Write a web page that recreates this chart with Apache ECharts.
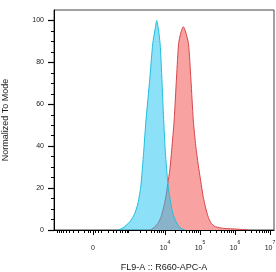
<!DOCTYPE html>
<html>
<head>
<meta charset="utf-8">
<script src="https://cdn.jsdelivr.net/npm/echarts@6/dist/echarts.min.js"></script>
<style>
  html, body { margin: 0; padding: 0; background: #fff; }
  #chart { width: 276px; height: 272px; }
</style>
</head>
<body>
<div id="chart"></div>
<script>
// display scale (logicle-like): position in decades, ~log10 above 10^3, linear around 0
const ZERO_POS = 1.943
const LIN_W = 175.4
function lg(v) { return Math.asinh(v / LIN_W) / Math.LN10 + ZERO_POS }

const X_MIN = 0.829
const X_MAX = 7.114

// histogram outlines, x in display decades, y in % of mode
const cyanX = [2.66, 2.80, 3.00, 3.14, 3.23, 3.31, 3.39, 3.45, 3.57, 3.65, 3.72, 3.763, 3.81, 3.86, 3.89, 3.95, 4.01, 4.09, 4.20, 4.29, 4.43, 4.57]
const cyanY = [0, 1, 4, 8, 13, 21, 37, 51, 73, 89, 96, 100, 96, 89, 80, 57, 37, 21, 9.6, 4.8, 1, 0]

const redX = [3.58, 3.69, 3.79, 3.88, 3.95, 4.02, 4.08, 4.14, 4.19, 4.26, 4.33, 4.39, 4.45, 4.523, 4.59, 4.67, 4.74, 4.81, 4.88, 4.95, 5.02, 5.09, 5.17, 5.24, 5.32, 5.44, 5.67, 6.09, 6.38]
const redY = [0, 1.2, 3, 6, 10, 15.5, 22, 29, 38, 52, 73, 89, 94, 97, 94.5, 89, 72, 52, 40, 31, 23.5, 16, 10, 6, 3.2, 1.6, 0.8, 0.4, 0]

// axis ticks
const xMajorVals = [0, 1e4, 1e5, 1e6, 1e7]
const xMajorExp = [null, 4, 5, 6, 7]
const yLabels = [0, 20, 40, 60, 80, 100]

const xMajorPos = xMajorVals.map(lg)
const xMinorPos = []
;[30, 60].concat([1, 2, 3, 4, 5, 6, 7, 8, 9].map(k => k * 100)).forEach(v => {
  xMinorPos.push(lg(v), lg(-v))
})
for (let d = 3; d <= 6; d++) {
  for (let k = 2; k <= 9; k++) xMinorPos.push(lg(k * Math.pow(10, d)))
}
const xMinor = xMinorPos.filter(p => p > X_MIN && p < X_MAX)
const yMinor = []
for (let v = 5; v <= 100; v += 5) if (v % 20) yMinor.push(v)

const FONT = '"Liberation Sans", Arial, sans-serif'
const TXT = '#1a1a1a'

function xLabel(val) {
  let best = 0
  xMajorPos.forEach((p, i) => { if (Math.abs(p - val) < Math.abs(xMajorPos[best] - val)) best = i })
  const e = xMajorExp[best]
  return e === null ? '{b|0}' : '{b|10}{s|' + e + '}'
}

const chart = echarts.init(document.getElementById('chart'), null, { renderer: 'canvas' })
chart.setOption({
  animation: false,
  grid: {
    left: 54, right: 2, top: 10, bottom: 42, outerBoundsMode: 'none', containLabel: false,
    show: true, borderColor: '#444', borderWidth: 1,
  },
  xAxis: [
    {
      type: 'value', min: X_MIN, max: X_MAX, position: 'bottom',
      name: 'FL9-A :: R660-APC-A', nameLocation: 'middle', nameGap: 33,
      nameTextStyle: { fontSize: 9, color: TXT, fontFamily: FONT },
      axisLine: { onZero: false, lineStyle: { color: '#000', width: 1 } },
      axisTick: { customValues: xMajorPos, length: 5, lineStyle: { color: '#000' } },
      axisLabel: {
        customValues: xMajorPos, margin: 10, formatter: xLabel,
        rich: {
          b: { fontSize: 7, color: TXT, fontFamily: FONT, verticalAlign: 'bottom', lineHeight: 12 },
          s: { fontSize: 5, color: TXT, fontFamily: FONT, verticalAlign: 'top', lineHeight: 7 },
        },
      },
      splitLine: { show: false },
    },
    {
      type: 'value', min: X_MIN, max: X_MAX, position: 'bottom',
      axisLine: { show: false },
      axisTick: { customValues: xMinor, length: 3, lineStyle: { color: '#000' } },
      axisLabel: { show: false },
      splitLine: { show: false },
    },
  ],
  yAxis: [
    {
      type: 'value', min: 0, max: 105, position: 'left',
      name: 'Normalized To Mode', nameLocation: 'middle', nameGap: 44,
      nameTextStyle: { fontSize: 9, color: TXT, fontFamily: FONT },
      axisLine: { show: true, onZero: false, lineStyle: { color: '#000', width: 1 } },
      axisTick: { show: true, customValues: yLabels, length: 6, lineStyle: { color: '#000', width: 1.2 } },
      axisLabel: { customValues: yLabels, margin: 10, fontSize: 7, color: TXT, fontFamily: FONT },
      splitLine: { show: false },
    },
    {
      type: 'value', min: 0, max: 105, position: 'left',
      axisLine: { show: false },
      axisTick: { show: true, customValues: yMinor, length: 3, lineStyle: { color: '#000' } },
      axisLabel: { show: false },
      splitLine: { show: false },
    },
  ],
  series: [
    {
      type: 'line', name: 'red', xAxisIndex: 0, yAxisIndex: 0,
      data: redX.map((x, i) => [x, redY[i]]),
      smooth: 0.25, symbol: 'none',
      lineStyle: { color: '#d6474c', width: 1 },
      areaStyle: { color: '#f9a2a2', opacity: 1 },
      z: 2,
    },
    {
      type: 'line', name: 'cyan', xAxisIndex: 0, yAxisIndex: 0,
      data: cyanX.map((x, i) => [x, cyanY[i]]),
      smooth: 0.2, symbol: 'none',
      lineStyle: { color: '#1fbfdc', width: 1 },
      areaStyle: { color: 'rgba(25,195,241,0.5)', opacity: 1 },
      z: 3,
    },
  ],
})
</script>
</body>
</html>
